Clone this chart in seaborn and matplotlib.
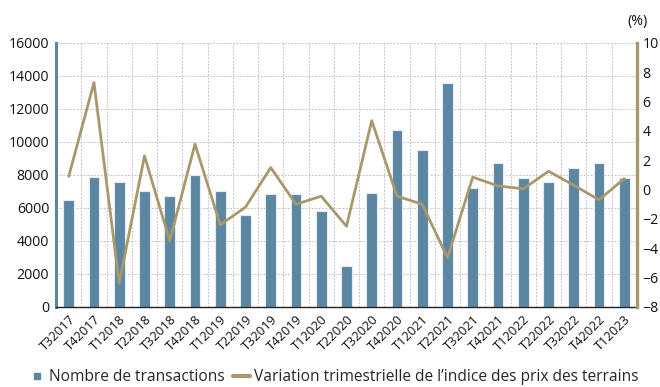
import numpy as np
import pandas as pd
import matplotlib
matplotlib.use("Agg")
import matplotlib.pyplot as plt
from matplotlib.lines import Line2D
import seaborn as sns

quarters = ["T32017", "T42017", "T12018", "T22018", "T32018", "T42018",
            "T12019", "T22019", "T32019", "T42019", "T12020", "T22020",
            "T32020", "T42020", "T12021", "T22021", "T32021", "T42021",
            "T12022", "T22022", "T32022", "T42022", "T12023"]
transactions = [6500, 7900, 7550, 7000, 6700, 8000,
                7000, 5600, 6850, 6850, 5800, 2450,
                6900, 10700, 9500, 13600, 7200, 8700,
                7800, 7550, 8400, 8750, 7800]
price_change = [0.9, 7.3, -6.4, 2.3, -3.5, 3.1,
                -2.4, -1.2, 1.5, -1.0, -0.45, -2.5,
                4.7, -0.45, -1.0, -4.65, 0.85, 0.25,
                0.05, 1.25, 0.3, -0.7, 0.75]

left_ticks = list(range(0, 16001, 2000))
right_ticks = list(range(-8, 11, 2))

bar_color = "#5c87a2"
line_color = "#a9986c"

sns.set_theme(style="white")
plt.rcParams["font.family"] = ["Open Sans", "DejaVu Sans"]

df = pd.DataFrame({"trimestre": quarters, "transactions": transactions,
                   "variation": price_change, "pos": np.arange(len(quarters))})

fig = plt.figure(figsize=(6.6, 3.87), dpi=100)
ax = fig.add_axes([0.085, 0.207, 0.880, 0.682])

sns.barplot(data=df, x="trimestre", y="transactions", color=bar_color,
            saturation=1, width=0.42, edgecolor="#e3ebf0", linewidth=0.8, ax=ax)

n = len(quarters)
ax.set_xlim(-0.5, n - 0.5)
ax.set_ylim(0, 16000)
ax.set_yticks(left_ticks)
ax.set_xlabel("")
ax.set_ylabel("")

# grid: horizontal at left ticks, vertical at category boundaries
bounds = np.arange(n + 1) - 0.5
ax.set_xticks(bounds, minor=True)
ax.set_xticks(np.arange(n))
ax.set_xticklabels(quarters, rotation=45, ha="right", rotation_mode="anchor",
                   fontsize=9.3)
ax.grid(False)
ax.yaxis.grid(True, linestyle=(0, (2, 1.5)), color="#c4c4c4", linewidth=0.7)
ax.xaxis.grid(True, which="minor", linestyle=(0, (2, 1.5)), color="#c4c4c4",
              linewidth=0.7)
ax.set_axisbelow(True)
ax.tick_params(axis="x", which="major", length=0, pad=4)
ax.tick_params(axis="x", which="minor", length=5, width=1, color="#222222",
               direction="out")
ax.tick_params(axis="y", length=0, labelsize=10.2, pad=5, colors="#111111")
for lab in ax.get_xticklabels():
    lab.set_color("#111111")

for s in ["top", "right"]:
    ax.spines[s].set_visible(False)
ax.spines["left"].set_color(bar_color)
ax.spines["left"].set_linewidth(2.2)
ax.spines["bottom"].set_color("#222222")
ax.spines["bottom"].set_linewidth(1.0)

ax2 = ax.twinx()
sns.lineplot(data=df, x="pos", y="variation", color=line_color, linewidth=2.0,
             sort=False, ax=ax2, legend=False)
ax2.set_ylim(-8, 10)
ax2.set_yticks(right_ticks)
ax2.set_ylabel("")
ax2.set_xlabel("")
ax2.grid(False)
ax2.tick_params(axis="y", length=0, labelsize=10.2, pad=4, colors="#111111")
for s in ["top", "left", "bottom"]:
    ax2.spines[s].set_visible(False)
ax2.spines["right"].set_color(line_color)
ax2.spines["right"].set_linewidth(2.4)
ax2.set_xlim(-0.5, n - 0.5)

fig.text(0.951, 0.945, "(%)", fontsize=10.2, color="#111111", ha="left",
         va="center")

handles = [
    Line2D([], [], linestyle="none", marker="s", markersize=5,
           color=bar_color),
    Line2D([], [], color=line_color, linewidth=3),
]
labels = ["Nombre de transactions",
          "Variation trimestrielle de l\u2019indice des prix des terrains"]
fig.legend(handles, labels, loc="center", bbox_to_anchor=(0.505, 0.025),
           ncol=2, frameon=False, fontsize=11.2, handlelength=1.1,
           handletextpad=0.25, columnspacing=0.5, borderaxespad=0)

fig.savefig("out.png", dpi=100)
